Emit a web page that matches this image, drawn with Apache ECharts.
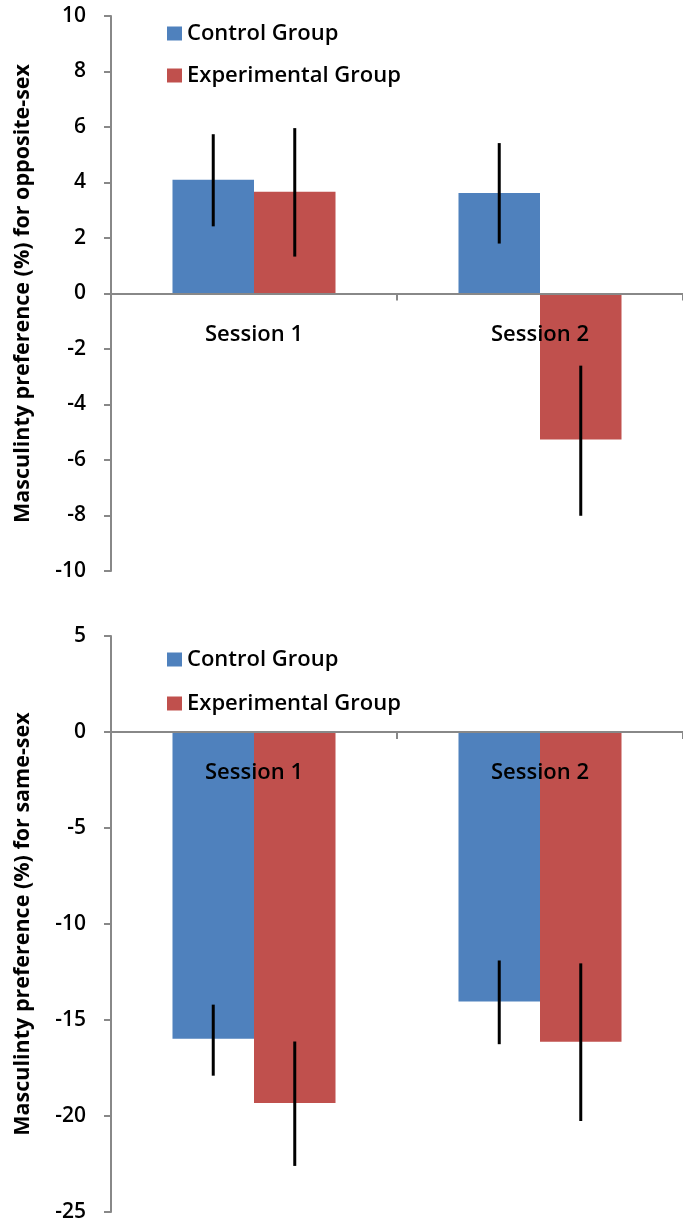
<!DOCTYPE html>
<html><head><meta charset="utf-8">
<script src="https://cdn.jsdelivr.net/npm/echarts@6/dist/echarts.min.js"></script>
<style>html,body{margin:0;padding:0;background:#fff}#c{width:683px;height:1226px}</style>
</head><body><div id="c"></div>
<script>
var categories = ['Session 1', 'Session 2'];
var seriesNames = ['Control Group', 'Experimental Group'];
// Top chart: opposite-sex
var oppControl = [4.1, 3.62];
var oppControlHi = [5.74, 5.42];
var oppControlLo = [2.42, 1.8];
var oppExp = [3.67, -5.26];
var oppExpHi = [5.96, -2.6];
var oppExpLo = [1.33, -8.01];
// Bottom chart: same-sex
var sameControl = [-15.98, -14.04];
var sameControlHi = [-14.2, -11.9];
var sameControlLo = [-17.9, -16.26];
var sameExp = [-19.32, -16.13];
var sameExpHi = [-16.12, -12.05];
var sameExpLo = [-22.6, -20.26];
var topTicks = {min: -10, max: 10, interval: 2};
var bottomTicks = {min: -25, max: 5, interval: 5};

var BLUE = '#4F81BD', RED = '#C0504D', AXIS = '#888888';
var FONT = '"Open Sans"';
var WEIGHT = 600;
var GAP = 0.43;
var TOP_H = 555, BOT_H = 576;

function errData(hi, lo) {
  return hi.map(function (h, i) { return [i, h, lo[i]]; });
}
function makeErr(sign) {
  return function (params, api) {
    var a = api.coord([api.value(0), api.value(1)]);
    var b = api.coord([api.value(0), api.value(2)]);
    var band = api.size([1, 0])[0];
    var bw = band * (1 - GAP) / 2;
    var x = a[0] + sign * bw / 2;
    return {type: 'line', shape: {x1: x, y1: a[1], x2: x, y2: b[1]},
      style: {stroke: '#000', lineWidth: 3}};
  };
}
function xAxisCfg(gi, t, h) {
  var off = -((0 - t.min) / (t.max - t.min)) * h;
  return {type: 'category', gridIndex: gi, data: categories, z: 3,
    position: 'bottom', offset: off,
    axisLine: {show: true, onZero: false, lineStyle: {color: AXIS, width: 2}},
    axisTick: {show: true, length: 7, lineStyle: {color: AXIS, width: 2}},
    axisLabel: {margin: 30, fontFamily: FONT, fontWeight: WEIGHT, fontSize: 22, color: '#000'},
    splitLine: {show: false}};
}
function yAxisCfg(gi, t, name) {
  return {type: 'value', gridIndex: gi, min: t.min, max: t.max, interval: t.interval,
    name: name, nameLocation: 'middle', nameRotate: 90, nameGap: 77,
    nameTextStyle: {fontFamily: FONT, fontWeight: 'bold', fontSize: 21.5, color: '#000'},
    axisLine: {show: true, lineStyle: {color: AXIS, width: 2}},
    axisTick: {show: true, length: 7, lineStyle: {color: AXIS, width: 2}},
    axisLabel: {margin: 25, fontFamily: FONT, fontWeight: WEIGHT, fontSize: 21, color: '#000'},
    splitLine: {show: false}};
}
function legendCfg(top, gap) {
  return {orient: 'vertical', left: 167, top: top, itemWidth: 15, itemHeight: 14,
    itemGap: gap, icon: 'rect', data: seriesNames, padding: 0,
    textStyle: {fontFamily: FONT, fontWeight: WEIGHT, fontSize: 22, color: '#000', lineHeight: 23}};
}
function bar(name, data, color, xi) {
  return {type: 'bar', name: name, xAxisIndex: xi, yAxisIndex: xi, data: data,
    barGap: '0%', barCategoryGap: (GAP * 100) + '%', itemStyle: {color: color}, z: 2};
}
function err(name, hi, lo, sign, xi) {
  return {type: 'custom', name: name + ' err', xAxisIndex: xi, yAxisIndex: xi,
    data: errData(hi, lo), renderItem: makeErr(sign), z: 4, silent: true,
    encode: {x: 0, y: [1, 2]}};
}

var chart = echarts.init(document.getElementById('c'));
chart.setOption({
  animation: false,
  backgroundColor: '#fff',
  grid: [
    {left: 111, top: 16, width: 574, height: TOP_H},
    {left: 111, top: 636, width: 574, height: BOT_H}
  ],
  legend: [legendCfg(22, 19), legendCfg(648, 21)],
  xAxis: [xAxisCfg(0, topTicks, TOP_H), xAxisCfg(1, bottomTicks, BOT_H)],
  yAxis: [
    yAxisCfg(0, topTicks, 'Masculinty preference (%) for opposite-sex'),
    yAxisCfg(1, bottomTicks, 'Masculinty preference (%) for same-sex')
  ],
  series: [
    bar(seriesNames[0], oppControl, BLUE, 0),
    bar(seriesNames[1], oppExp, RED, 0),
    err(seriesNames[0], oppControlHi, oppControlLo, -1, 0),
    err(seriesNames[1], oppExpHi, oppExpLo, 1, 0),
    bar(seriesNames[0], sameControl, BLUE, 1),
    bar(seriesNames[1], sameExp, RED, 1),
    err(seriesNames[0], sameControlHi, sameControlLo, -1, 1),
    err(seriesNames[1], sameExpHi, sameExpLo, 1, 1)
  ]
});
</script></body></html>
